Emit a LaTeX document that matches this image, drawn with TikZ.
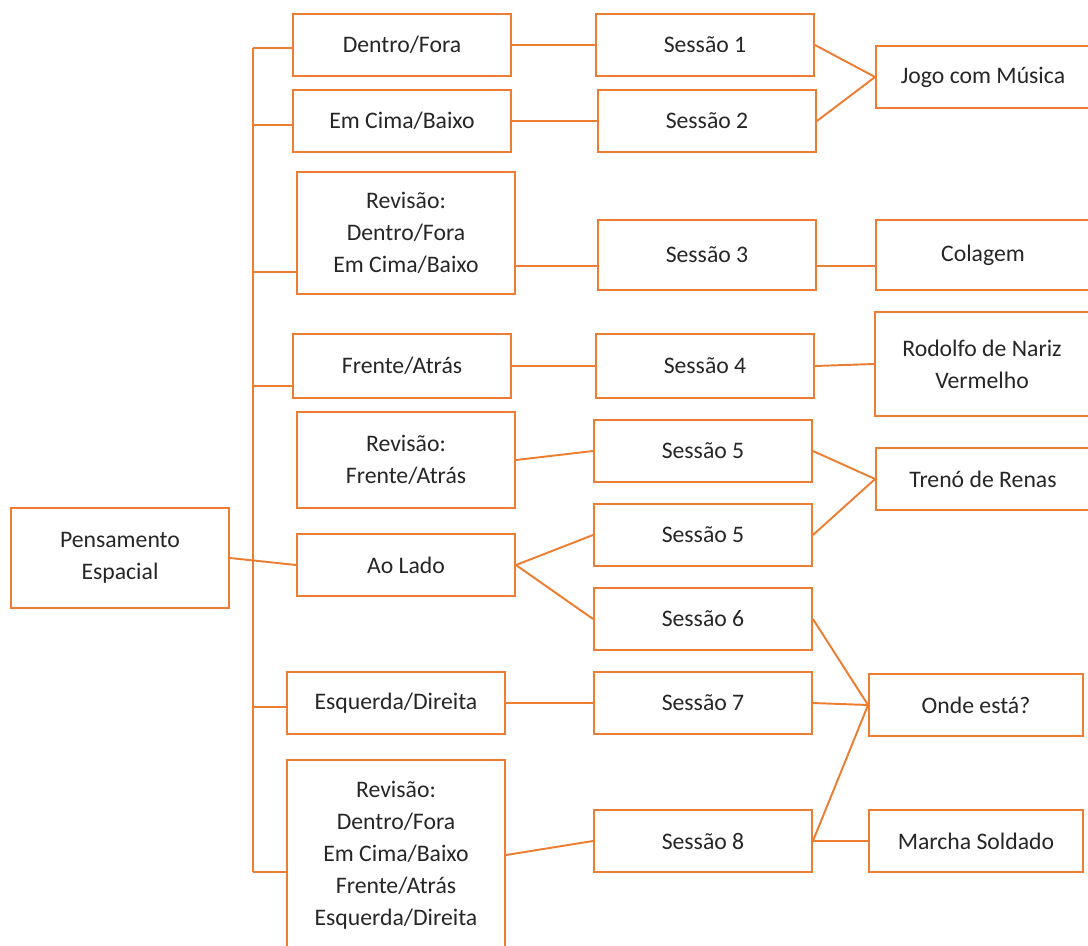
\documentclass[tikz,border=0pt]{standalone}
\usepackage{fontspec}
\setmainfont{Carlito}
\usetikzlibrary{positioning}
\definecolor{ora}{HTML}{ED7D31}
\definecolor{txt}{HTML}{262626}

\begin{document}
\begin{tikzpicture}[x=0.02cm, y=-0.02cm,
    box/.style={rectangle, draw=ora, line width=1.1pt, minimum width=4.36cm,
                minimum height=1.24cm, inner sep=0pt, align=center, text=txt,
                font=\fontsize{13.5}{18.2}\selectfont},
    act/.style={box, minimum width=4.28cm},
    lnk/.style={draw=ora, line width=1.1pt},
]
\useasboundingbox (0,0) rectangle (1088,946);
\clip (0,0) rectangle (1088,946);

% root and topics
\node[box, minimum height=2cm]    (pe)  at (120,558) {Pensamento\\Espacial};
\node[box]                        (df)  at (402,45)  {Dentro/Fora};
\node[box]                        (ec)  at (402,121) {Em Cima/Baixo};
\node[box, minimum height=2.44cm] (rv1) at (406,233) {Revisão:\\Dentro/Fora\\Em Cima/Baixo};
\node[box, minimum height=1.28cm] (fa)  at (402,366) {Frente/Atrás};
\node[box, minimum height=1.92cm] (rv2) at (406,460) {Revisão:\\Frente/Atrás};
\node[box]                        (al)  at (406,565) {Ao Lado};
\node[box]                        (ed)  at (396,703) {Esquerda/Direita};
\node[box, minimum height=3.8cm]  (rv3) at (396,855) {Revisão:\\Dentro/Fora\\Em Cima/Baixo\\Frente/Atrás\\Esquerda/Direita};

% sessions
\node[box]                        (s1)  at (705,45)  {Sessão 1};
\node[box]                        (s2)  at (707,121) {Sessão 2};
\node[box, minimum height=1.4cm]  (s3)  at (707,255) {Sessão 3};
\node[box, minimum height=1.28cm] (s4)  at (705,366) {Sessão 4};
\node[box]                        (s5a) at (703,451) {Sessão 5};
\node[box]                        (s5b) at (703,535) {Sessão 5};
\node[box]                        (s6)  at (703,619) {Sessão 6};
\node[box]                        (s7)  at (703,703) {Sessão 7};
\node[box]                        (s8)  at (703,841) {Sessão 8};

% activities
\node[act]                        (jogo) at (983,77)  {Jogo com Música};
\node[act, minimum height=1.4cm]  (col)  at (983,255) {Colagem};
\node[act, minimum height=2.08cm] (rod)  at (982,364) {Rodolfo de Nariz\\Vermelho};
\node[act]                        (tre)  at (983,479) {Trenó de Renas};
\node[act]                        (onde) at (976,705) {Onde está?};
\node[act]                        (mar)  at (976,841) {Marcha Soldado};

% trunk
\coordinate (t1) at (253,48);
\coordinate (t2) at (253,125);
\coordinate (t3) at (253,272);
\coordinate (t4) at (253,386);
\coordinate (t5) at (253,707);
\coordinate (t6) at (253,872);
\draw[lnk] (t1) -- (t6);
\draw[lnk] (t1) -- (t1 -| df.west);
\draw[lnk] (t2) -- (t2 -| ec.west);
\draw[lnk] (t3) -- (t3 -| rv1.west);
\draw[lnk] (t4) -- (t4 -| fa.west);
\draw[lnk] (t5) -- (t5 -| ed.west);
\draw[lnk] (t6) -- (t6 -| rv3.west);
\draw[lnk] (pe.east) -- (al.west);

% topics to sessions
\draw[lnk] (df.east) -- (s1.west);
\draw[lnk] (ec.east) -- (s2.west);
\draw[lnk] ([yshift=-0.66cm]rv1.east) -- ([yshift=-0.22cm]s3.west);
\draw[lnk] (fa.east) -- (s4.west);
\draw[lnk] (rv2.east) -- (s5a.west);
\draw[lnk] (al.east) -- (s5b.west);
\draw[lnk] (al.east) -- (s6.west);
\draw[lnk] (ed.east) -- (s7.west);
\draw[lnk] (rv3.east) -- (s8.west);

% sessions to activities
\draw[lnk] (s1.east) -- (jogo.west);
\draw[lnk] (s2.east) -- (jogo.west);
\draw[lnk] ([yshift=-0.22cm]s3.east) -- ([yshift=-0.22cm]col.west);
\draw[lnk] (s4.east) -- (rod.west);
\draw[lnk] (s5a.east) -- (tre.west);
\draw[lnk] (s5b.east) -- (tre.west);
\draw[lnk] (s6.east) -- (onde.west);
\draw[lnk] (s7.east) -- (onde.west);
\draw[lnk] (s8.east) -- (onde.west);
\draw[lnk] (s8.east) -- (mar.west);
\end{tikzpicture}
\end{document}
